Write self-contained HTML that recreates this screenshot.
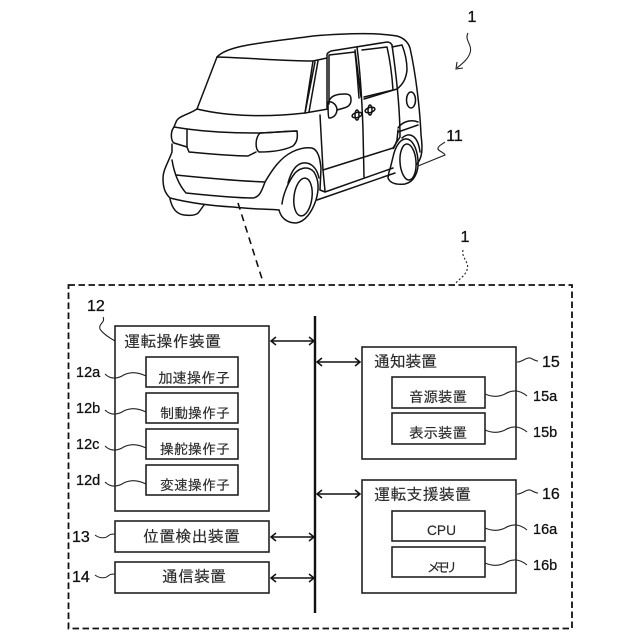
<!DOCTYPE html>
<html><head><meta charset="utf-8">
<style>
html,body{margin:0;padding:0;background:#fff}
svg{display:block}
.b{fill:none;stroke:#222;stroke-width:1.6}
.c path,.c ellipse{fill:none;stroke:#111;stroke-width:1.5;stroke-linejoin:round;stroke-linecap:round}
.s{fill:none;stroke:#222;stroke-width:1.1}
.a{fill:none;stroke:#111;stroke-width:1.5}
.j{font-family:"IPAGothic","Liberation Sans","Noto Sans CJK JP",sans-serif;fill:#2a2a2a;stroke:#2a2a2a;stroke-width:.15}
.l{font-family:"Liberation Sans",sans-serif;fill:#111;stroke:#111;stroke-width:.3}
</style></head><body>
<svg width="640" height="640" viewBox="0 0 640 640" xmlns="http://www.w3.org/2000/svg">
<g class="c">
<!-- roof and rear -->
<path d="M217 57C228 45 262 43 313 36C350 33 380 33 397 36C404 38 408 42 410 48C416 75 420 110 421 135C423 150 422 158 417 164"/>
<!-- windshield -->
<path d="M217 57C250 58 285 61 313 61L305 113C270 117 230 117 197 109Z"/>
<!-- hood -->
<path d="M197 109C188 115 178 116 176 122L174 127"/>
<!-- left headlight -->
<path d="M174 127L187 129L187 147L174 143C171 141 170 132 174 127Z"/>
<path d="M187 129C210 132 235 133 257 133C270 133 285 131 297 131"/>
<!-- right headlight -->
<path d="M260 133L297 131C298 138 297 142 293 146C285 150 272 152 259 152C255 149 255 138 260 133Z"/>
<!-- grille -->
<path d="M187 147L189 152C210 154 230 156 248 156L256 152"/>
<!-- bumper -->
<path d="M172 144L172 152C168 163 163 170 163 178C163 188 165 193 170 198C190 203 215 206 233 207C250 209 265 209 279 210"/>
<path d="M172 160C174 172 178 184 186 193C205 195 235 198 253 198C260 197 262 190 265 182C272 170 280 158 292 152C298 149 305 147 312 148C318 150 320 158 321 168L320 190"/>
<path d="M176 175C205 178 240 181 265 182"/>
<!-- front left wheel -->
<path d="M170 199C172 208 176 214 184 215C192 216 197 215 199 212L204 205"/>
<!-- front right wheel -->
<path d="M279 210C281 218 287 223 296 223C305 222 312 212 316 200C319 190 319 180 314 172C309 166 301 167 295 173C288 182 283 195 282 204"/>
<path d="M288 183C291 172 296 164 303 163C311 162 317 168 319 178"/>
<ellipse cx="303" cy="197" rx="9" ry="19" transform="rotate(7 303 197)"/>
<!-- sill -->
<path d="M320 190L325 192L393 168"/>
<path d="M317 200L395 173"/>
<!-- door lines -->
<path d="M320 115C321 135 322 150 323 170L325 191"/>
<path d="M323 170L393 148L400 137C400 115 397 80 392 45"/>
<path d="M357 47C360 70 362 100 363 130L364 177"/>
<!-- window frame -->
<path d="M327 108L327 55C327 53 329 52 331 51L387 42C389 42 391 43 392 45"/>
<path d="M329 104L329 55L355 52C357 70 358 85 359 98"/>
<path d="M355 50L361 97"/>
<path d="M362 50L387 47C390 60 392 75 393 90L364 97"/>
<path d="M364 99L397 89"/>
<!-- pillar -->
<path d="M315 62L305 113"/>
<path d="M318 61L309 112"/>
<path d="M305 113L328 109"/>
<path d="M313 61L327 58"/>
<!-- rear quarter -->
<path d="M392 47L402 45C406 55 407 65 407 70C406 80 402 85 397 89"/>
<!-- mirror -->
<path d="M329 101C331 96 336 94 345 94C350 94 351 96 351 100C351 105 348 107 344 108L337 110"/>
<path d="M328 102C332 101 336 104 337 109C337 114 334 118 329 118C328 117 328 108 328 102Z"/>
<!-- handles -->
<ellipse cx="357" cy="115" rx="5" ry="2.500" transform="rotate(-15 357 115)"/>
<ellipse cx="357" cy="115" rx="2" ry="5"/>
<ellipse cx="370" cy="110" rx="5" ry="2.500" transform="rotate(-15 370 110)"/>
<ellipse cx="370" cy="110" rx="2" ry="5"/>
<!-- fuel cap -->
<ellipse cx="411" cy="100" rx="4.500" ry="8"/>
<!-- rear arch and strip -->
<path d="M398 128C402 122 410 119 418 122"/>
<path d="M398 132L418 125"/>
<path d="M398 130L397 140C395 146 393 150 393 148"/>
<!-- rear wheel -->
<path d="M389 172L388 178C390 183 396 185 405 184C414 182 419 172 418 160C417 148 412 138 405 139C399 140 395 148 393 157C391 165 390 170 389 172"/>
<path d="M402 138C410 131 418 136 420 152"/>
<ellipse cx="408" cy="162" rx="8" ry="18" transform="rotate(-4 408 162)"/>
</g>

<!-- top labels -->
<text x="472" y="22" class="l" font-size="16" text-anchor="middle">1</text>
<path d="M468 33C464 40 473 45 470 53C468 59 463 63 457 68" class="s"/>
<path d="M457 62L456 69L463 68" class="s"/>
<text x="454.500" y="141" class="l" font-size="16" text-anchor="middle">11</text>
<path d="M418 166L445 155C444 152 437 151 438 148C439 145 443 144 445 142" class="s"/>
<text x="465" y="242" class="l" font-size="16" text-anchor="middle">1</text>
<path d="M463 250C461 258 470 262 467 270C465 276 459 279 455 284" class="s" stroke-dasharray="2 2"/>

<!-- dashed connector and frame -->
<path d="M238 203L263 282" fill="none" stroke="#111" stroke-width="1.6" stroke-dasharray="7 5"/>
<rect x="68.500" y="285" width="503.500" height="343.500" fill="none" stroke="#111" stroke-width="1.8" stroke-dasharray="6.500 3.500"/>

<!-- bus -->
<path d="M315 316V613" stroke="#111" stroke-width="2.400" fill="none"/>

<!-- left boxes -->
<rect class="b" x="115" y="326" width="154" height="185"/>
<rect class="b" x="146" y="357" width="92" height="30"/>
<rect class="b" x="146" y="393" width="92" height="30"/>
<rect class="b" x="146" y="429" width="92" height="30"/>
<rect class="b" x="146" y="465" width="92" height="30"/>
<rect class="b" x="115" y="521" width="154" height="31"/>
<rect class="b" x="115" y="562" width="154" height="31"/>

<!-- right boxes -->
<rect class="b" x="362" y="347" width="154" height="112"/>
<rect class="b" x="392" y="377" width="93" height="31"/>
<rect class="b" x="392" y="413" width="93" height="31"/>
<rect class="b" x="362" y="480" width="154" height="113"/>
<rect class="b" x="392" y="511" width="93" height="30"/>
<rect class="b" x="392" y="547" width="93" height="30"/>

<!-- arrows -->
<g class="a">
<path d="M271 341H314M276 337L271 341L276 345M309 337L314 341L309 345"/>
<path d="M271 537H314M276 533L271 537L276 541M309 533L314 537L309 541"/>
<path d="M271 578H314M276 574L271 578L276 582M309 574L314 578L309 582"/>
<path d="M317 362H360M322 358L317 362L322 366M355 358L360 362L355 366"/>
<path d="M317 494H360M322 490L317 494L322 498M355 490L360 494L355 498"/>
</g>

<!-- text in boxes -->
<g class="j">
<text x="124" y="347" font-size="16" textLength="97">運転操作装置</text>
<text x="158" y="383" font-size="14.500" textLength="72">加速操作子</text>
<text x="160" y="418" font-size="14" textLength="70">制動操作子</text>
<text x="160" y="454" font-size="14" textLength="70">操舵操作子</text>
<text x="160" y="490" font-size="14" textLength="70">変速操作子</text>
<text x="143" y="542" font-size="16" textLength="97">位置検出装置</text>
<text x="162" y="582" font-size="16" textLength="64">通信装置</text>
<text x="374" y="367" font-size="16" textLength="63">通知装置</text>
<text x="409" y="402" font-size="14.500" textLength="58">音源装置</text>
<text x="409" y="438" font-size="14.500" textLength="58">表示装置</text>
<text x="374" y="500" font-size="16" textLength="97">運転支援装置</text>
<text x="427" y="535" font-size="14" textLength="29" lengthAdjust="spacingAndGlyphs" style="font-family:'Liberation Sans',sans-serif">CPU</text>
<text x="427" y="572" font-size="13" textLength="30" style="font-family:'Liberation Sans','Noto Sans CJK JP',sans-serif">メモリ</text>
</g>

<!-- labels -->
<g class="l">
<text x="87" y="311" font-size="16">12</text>
<text x="76" y="377" font-size="14.500">12a</text>
<text x="76" y="413" font-size="14.500">12b</text>
<text x="76" y="449" font-size="14.500">12c</text>
<text x="76" y="485" font-size="14.500">12d</text>
<text x="72" y="542" font-size="16">13</text>
<text x="72" y="582" font-size="16">14</text>
<text x="542" y="367" font-size="16">15</text>
<text x="533" y="401" font-size="14.500">15a</text>
<text x="533" y="437" font-size="14.500">15b</text>
<text x="542" y="499" font-size="16">16</text>
<text x="533" y="534" font-size="14.500">16a</text>
<text x="533" y="570" font-size="14.500">16b</text>
</g>

<!-- squiggles -->
<g class="s">
<path d="M103 317C106 322 98 324 100 329C103 334 110 338 115 341"/>
<path d="M105 374C110 379 116 379 122 376C130 371 138 372 146 376"/>
<path d="M105 410C110 415 116 415 122 412C130 407 138 408 146 412"/>
<path d="M105 446C110 451 116 451 122 448C130 443 138 444 146 448"/>
<path d="M105 482C110 487 116 487 122 484C130 479 138 480 146 484"/>
<path d="M95 535C100 539 106 538 108 536C110 534 112 534 115 534"/>
<path d="M95 575C100 579 106 578 108 576C110 574 112 574 115 574"/>
<path d="M517 362C523 362 526 357 530 358C533 359 535 361 538 361"/>
<path d="M517 494C523 494 526 489 530 490C533 491 535 493 538 493"/>
<path d="M485 394C492 397 499 397 505 394C513 389 520 390 527 396"/>
<path d="M485 430C492 433 499 433 505 430C513 425 520 426 527 432"/>
<path d="M485 528C492 531 499 531 505 528C513 523 520 524 527 530"/>
<path d="M485 563C492 566 499 566 505 563C513 558 520 559 527 565"/>
</g>
</svg>
</body></html>
